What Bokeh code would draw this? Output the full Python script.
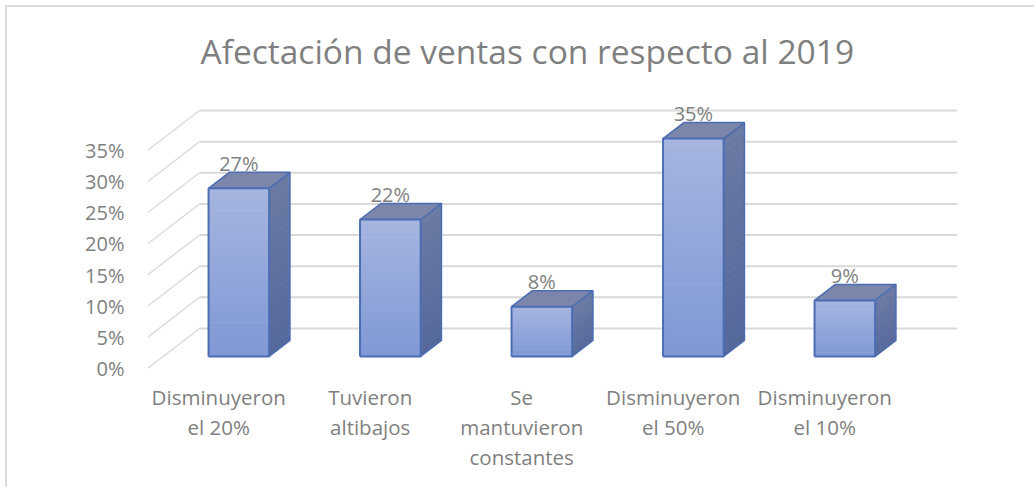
from bokeh.plotting import figure
from bokeh.embed import file_html
from bokeh.resources import INLINE
from bokeh.models import FixedTicker, Range1d
from bokeh.core.properties import value

title = "Afectación de ventas con respecto al 2019"
categories = ["Disminuyeron\nel 20%", "Tuvieron\naltibajos", "Se\nmantuvieron\nconstantes",
              "Disminuyeron\nel 50%", "Disminuyeron\nel 10%"]
values = [27, 22, 8, 35, 9]
labels = ["27%", "22%", "8%", "35%", "9%"]
y_ticks = [0, 5, 10, 15, 20, 25, 30, 35]
y_tick_labels = ["0%", "5%", "10%", "15%", "20%", "25%", "30%", "35%"]

FONT = "Open Sans"
TXT = "#7f7f7f"
GRID = "#d9d9d9"
EDGE = "#4a6db3"

# geometry of the pseudo-3D projection (px per unit)
PX_X, PX_Y = 151.5, 6.22
SHIFT_X, SHIFT_Y = 52 / PX_X, 40 / PX_Y
D0, D1 = 0.3, 0.7      # depth span of the bars
BW = 0.4               # bar width in slots
N = 5


def proj(x, y, d):
    return x + d * SHIFT_X, y + d * SHIFT_Y


def mix(c0, c1, t):
    return "#%02x%02x%02x" % tuple(round(a + (b - a) * t) for a, b in zip(c0, c1))


L, T, W, H = 7, 7, 1029, 482
FL, FR, FT, FB = 147, 960, 78, 367.7

p = figure(width=W, height=H, output_backend="svg", toolbar_location=None,
           x_range=Range1d(0, (FR - FL) / PX_X), y_range=Range1d(0, (FB - FT) / PX_Y),
           min_border_left=FL - L, min_border_right=L + W - FR,
           min_border_top=int(FT - T), min_border_bottom=round(T + H - FB),
           outline_line_color=None, background_fill_color="white")
p.styles = {"transform": "translate(7px,7px)", "box-shadow": "-2px -2px 0 #dcdcdc"}

p.title.text = title
p.title.text_font = FONT
p.title.text_font_size = "33.5px"
p.title.text_font_style = "normal"
p.title.text_color = TXT
p.title.align = "left"
p.title.offset = 53

p.grid.visible = False

# walls
for t in y_ticks:
    xa, ya = proj(0, t, 0)
    xb, yb = proj(0, t, 1)
    xc, yc = proj(N, t, 1)
    p.line([xa, xb], [ya, yb], line_color=GRID, line_width=1.3)
    p.line([xb, xc], [yb, yc], line_color=GRID, line_width=2)

# bars
STEPS = 30
for i, v in enumerate(values):
    x0, x1 = i + 0.5 - BW / 2, i + 0.5 + BW / 2
    for s in range(STEPS):
        y0, y1 = v * s / STEPS, v * (s + 1) / STEPS
        f = (s + 0.5) / STEPS
        # side face
        a = proj(x1, y0, D0); b = proj(x1, y0, D1); c = proj(x1, y1, D1); d = proj(x1, y1, D0)
        col = mix((0x55, 0x68, 0x9b), (0x6b, 0x7a, 0xa4), f)
        p.patch([a[0], b[0], c[0], d[0]], [a[1], b[1], c[1] + .1, d[1] + .1],
                fill_color=col, line_color=None)
        # front face
        a = proj(x0, y0, D0); b = proj(x1, y1 + .1, D0)
        col = mix((0x7f, 0x98, 0xd4), (0xa6, 0xb5, 0xe0), f)
        p.quad(left=a[0], right=b[0], bottom=a[1], top=b[1], fill_color=col, line_color=None)
    # top face
    a = proj(x0, v, D0); b = proj(x1, v, D0); c = proj(x1, v, D1); d = proj(x0, v, D1)
    p.patch([a[0], b[0], c[0], d[0]], [a[1], b[1], c[1], d[1]], fill_color="#7b86aa", line_color=None)
    # edges
    e = [proj(x0, 0, D0), proj(x1, 0, D0), proj(x1, v, D0), proj(x0, v, D0), proj(x0, 0, D0)]
    p.line([q[0] for q in e], [q[1] for q in e], line_color=EDGE, line_width=2)
    e = [proj(x0, v, D0), proj(x0, v, D1), proj(x1, v, D1), proj(x1, 0, D1), proj(x1, 0, D0)]
    p.line([q[0] for q in e], [q[1] for q in e], line_color=EDGE, line_width=1.5)
    e = [proj(x1, v, D0), proj(x1, v, D1)]
    p.line([q[0] for q in e], [q[1] for q in e], line_color=EDGE, line_width=1.5)

# data labels
lx = [proj(i + 0.5, v, D0)[0] for i, v in enumerate(values)]
ly = [proj(i + 0.5, v, D0)[1] for i, v in enumerate(values)]
p.text(lx, ly, text=labels, y_offset=-25, text_align="center", text_baseline="alphabetic",
       text_font=value(FONT), text_font_size="20px", text_color=TXT)

# axes
ax = p.yaxis[0]
ax.ticker = FixedTicker(ticks=y_ticks)
ax.major_label_overrides = dict(zip(y_ticks, y_tick_labels))
ax.axis_line_color = None
ax.major_tick_line_color = None
ax.minor_tick_line_color = None
ax.major_label_standoff = 17
ax.major_label_text_font = FONT
ax.major_label_text_font_size = "20px"
ax.major_label_text_color = TXT

bx = p.xaxis[0]
xt = [i + 0.5 - 0.03 for i in range(N)]
bx.ticker = FixedTicker(ticks=xt)
bx.major_label_overrides = dict(zip(xt, categories))
bx.axis_line_color = None
bx.major_tick_line_color = None
bx.minor_tick_line_color = None
bx.major_label_standoff = 8
bx.major_label_text_font = FONT
bx.major_label_text_font_size = "20.5px"
bx.major_label_text_color = TXT
bx.major_label_text_line_height = 1.08

open("out.html", "w").write(file_html(p, INLINE))
